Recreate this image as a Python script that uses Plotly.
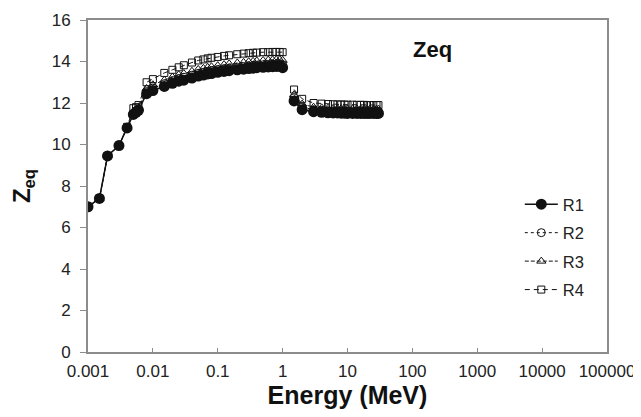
import plotly.graph_objects as go

# None entries mark the break in every series between 1 MeV and 1.5 MeV
energy = [0.001, 0.0015, 0.002, 0.003, 0.004, 0.005, 0.0055, 0.006,
          0.008, 0.01, 0.015, 0.02, 0.025, 0.03, 0.04, 0.05, 0.06, 0.07, 0.08, 0.1,
          0.125, 0.15, 0.2, 0.25, 0.3, 0.35, 0.4, 0.5, 0.6, 0.7, 0.8, 0.9, 1.0,
          1.2,
          1.5, 2, 3,
          4, 5, 6, 7, 8, 9, 10, 12, 14, 16, 18, 20, 22, 25, 28, 30]

r1 = [7.0, 7.4, 9.45, 9.95, 10.8, 11.45, 11.55, 11.65,
      12.45, 12.6, 12.8, 12.95, 13.05, 13.1, 13.2, 13.3, 13.35, 13.4, 13.42, 13.48,
      13.52, 13.56, 13.6, 13.63, 13.66, 13.68, 13.7, 13.72, 13.74, 13.75, 13.76, 13.77, 13.7,
      None,
      12.1, 11.68, 11.58,
      11.55, 11.53, 11.52, 11.52, 11.51, 11.51, 11.5, 11.5, 11.5, 11.5, 11.5, 11.5, 11.5, 11.5, 11.5, 11.5]

r2 = [7.0, 7.4, 9.45, 9.95, 10.8, 11.5, 11.6, 11.7,
      12.55, 12.72, 12.93, 13.08, 13.18, 13.24, 13.34, 13.43, 13.48, 13.52, 13.55, 13.6,
      13.64, 13.68, 13.72, 13.75, 13.78, 13.8, 13.82, 13.84, 13.86, 13.87, 13.88, 13.88, 13.85,
      None,
      12.25, 11.8, 11.68,
      11.65, 11.63, 11.62, 11.62, 11.61, 11.61, 11.6, 11.6, 11.6, 11.6, 11.6, 11.6, 11.6, 11.6, 11.6, 11.6]

r3 = [7.0, 7.4, 9.45, 9.95, 10.82, 11.6, 11.68, 11.78,
      12.7, 12.88, 13.1, 13.25, 13.36, 13.42, 13.53, 13.62, 13.67, 13.72, 13.75, 13.8,
      13.85, 13.89, 13.93, 13.96, 13.99, 14.01, 14.03, 14.05, 14.07, 14.08, 14.09, 14.09, 14.06,
      None,
      12.4, 11.95, 11.8,
      11.77, 11.75, 11.74, 11.73, 11.73, 11.72, 11.72, 11.72, 11.71, 11.71, 11.71, 11.7, 11.7, 11.7, 11.7, 11.7]

r4 = [7.0, 7.4, 9.45, 9.95, 10.85, 11.75, 11.8, 11.9,
      13.0, 13.15, 13.45, 13.6, 13.72, 13.82, 13.95, 14.05, 14.1, 14.15, 14.18, 14.22,
      14.27, 14.3, 14.35, 14.38, 14.4, 14.42, 14.43, 14.45, 14.45, 14.46, 14.46, 14.46, 14.45,
      None,
      12.65, 12.2, 12.0,
      11.97, 11.95, 11.94, 11.93, 11.93, 11.92, 11.92, 11.92, 11.91, 11.91, 11.91, 11.9, 11.9, 11.9, 11.9, 11.9]

x_ticks = [0.001, 0.01, 0.1, 1, 10, 100, 1000, 10000, 100000]
x_tick_labels = ["0.001", "0.01", "0.1", "1", "10", "100", "1000", "10000", "100000"]
y_ticks = [0, 2, 4, 6, 8, 10, 12, 14, 16]

FONT = "Arial, Liberation Sans, sans-serif"
BLACK = "#111111"
TEXT = "#222222"
GREY = "#8c8c8c"

fig = go.Figure()

fig.add_trace(go.Scatter(
    x=energy, y=r4, name="R4", mode="lines+markers", legendgroup="g4", legendrank=4,
    connectgaps=False,
    line=dict(color=BLACK, width=1, dash="5px,4px"),
    marker=dict(symbol="square-open", size=7, color=BLACK, line=dict(width=1, color=BLACK))))
fig.add_trace(go.Scatter(
    x=energy, y=r3, name="R3", mode="lines+markers", legendgroup="g3", legendrank=3,
    connectgaps=False,
    line=dict(color=BLACK, width=1, dash="4px,2px"),
    marker=dict(symbol="triangle-up-open", size=8, color=BLACK, line=dict(width=1, color=BLACK))))
fig.add_trace(go.Scatter(
    x=energy, y=r2, name="R2", mode="lines+markers", legendgroup="g2", legendrank=2,
    connectgaps=False,
    line=dict(color=BLACK, width=1, dash="dot"),
    marker=dict(symbol="circle-open", size=8, color=BLACK, line=dict(width=1, color=BLACK))))
fig.add_trace(go.Scatter(
    x=energy, y=r1, name="R1", mode="lines+markers", legendgroup="g1", legendrank=1,
    connectgaps=False,
    line=dict(color=BLACK, width=1.5),
    marker=dict(symbol="circle", size=11, color=BLACK)))

fig.add_annotation(
    text="<b>Zeq</b>", x=0.663, y=0.91, xref="paper", yref="paper",
    xanchor="center", yanchor="middle",
    showarrow=False, font=dict(family=FONT, size=22, color=BLACK))

# page body has an 8px margin: figure sized so the plot lands where the reference has it
fig.update_layout(
    width=633, height=409,
    margin=dict(l=80, r=34, t=12, b=65),
    paper_bgcolor="white", plot_bgcolor="white",
    font=dict(family=FONT, size=17, color=TEXT),
    showlegend=True,
    legend=dict(x=0.832, y=0.497, xanchor="left", yanchor="top",
                bgcolor="rgba(0,0,0,0)", font=dict(family=FONT, size=16.5, color=TEXT),
                tracegroupgap=4, itemwidth=33),
    xaxis=dict(
        type="log", range=[-3, 5], tickvals=x_ticks, ticktext=x_tick_labels,
        automargin=False,
        showgrid=False, zeroline=False,
        showline=True, linecolor=GREY, linewidth=2, mirror=True,
        ticks="inside", ticklen=4, tickcolor=GREY, tickwidth=1,
        ticklabelstandoff=3,
        tickfont=dict(family=FONT, size=17, color=TEXT),
        title=dict(text="<b>Energy (MeV)</b>", font=dict(family=FONT, size=25, color=BLACK), standoff=0)),
    yaxis=dict(
        range=[0, 16], tickvals=y_ticks,
        automargin=False,
        showgrid=False, zeroline=False,
        showline=True, linecolor=GREY, linewidth=2, mirror=True,
        ticks="outside", ticklen=6, tickcolor=GREY, tickwidth=1,
        ticklabelstandoff=6,
        tickfont=dict(family=FONT, size=17, color=TEXT),
        title=dict(text="<b>Z<sub>eq</sub></b>", font=dict(family=FONT, size=24, color=BLACK), standoff=24)),
)

fig.write_html("out.html")
